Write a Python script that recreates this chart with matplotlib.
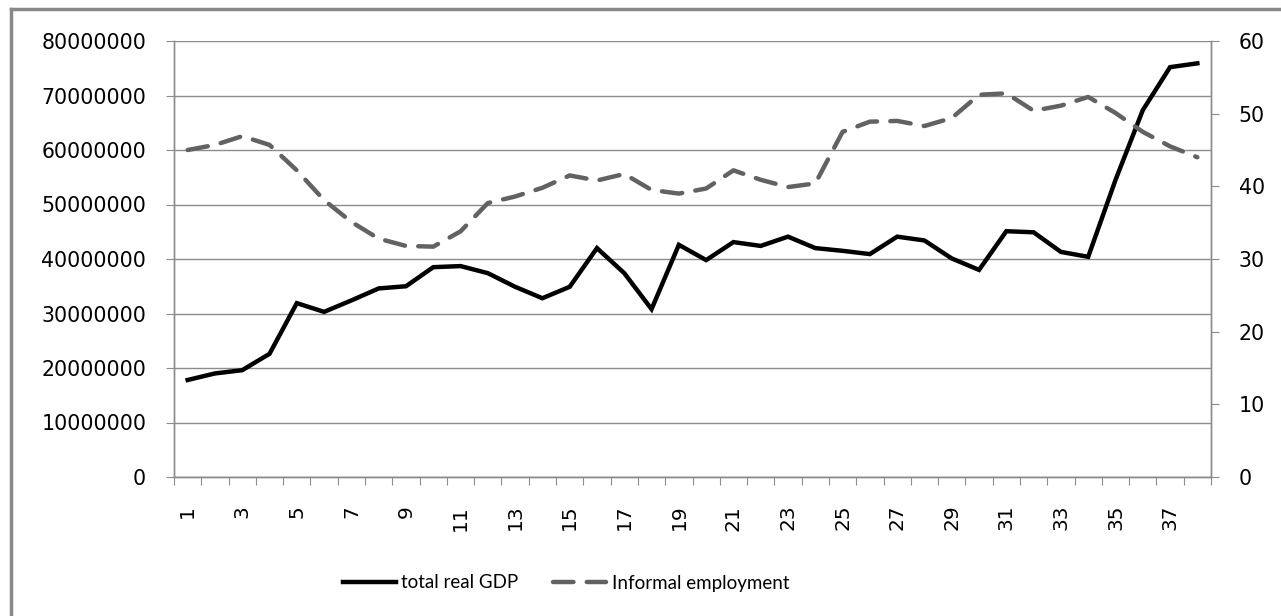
import matplotlib.pyplot as plt
from matplotlib.lines import Line2D
from matplotlib.ticker import FixedLocator, NullFormatter, FixedFormatter

# Datos
periodos = list(range(1, 39))
gdp = [17.8, 19.0, 19.6, 22.6, 31.9, 30.3, 32.4, 34.6, 35.0, 38.5,
       38.7, 37.4, 34.9, 32.8, 34.9, 42.0, 37.4, 30.8, 42.6, 39.8,
       43.1, 42.4, 44.1, 42.0, 41.5, 40.9, 44.1, 43.4, 40.1, 38.0,
       45.1, 44.9, 41.3, 40.4, 54.5, 67.3, 75.2, 75.9]
gdp = [v * 1e6 for v in gdp]
informal = [45.0, 45.7, 46.9, 45.7, 42.2, 38.1, 35.1, 32.8, 31.8, 31.7,
            33.8, 37.7, 38.6, 39.8, 41.5, 40.8, 41.7, 39.5, 39.0, 39.7,
            42.2, 40.9, 39.9, 40.4, 47.5, 48.9, 49.0, 48.3, 49.4, 52.6,
            52.8, 50.4, 51.1, 52.3, 50.1, 47.5, 45.5, 44.0]
left_ticks = list(range(0, 80000001, 10000000))
right_ticks = list(range(0, 61, 10))
x_labels = [str(i) for i in periodos if i % 2 == 1]

tick_font = {'family': 'DejaVu Sans', 'size': 14.8}
grid_col = '#8c8c8c'

fig = plt.figure(figsize=(12.81, 6.16), dpi=100)
ax = fig.add_axes([174 / 1281, 1 - 477 / 616, (1211 - 174) / 1281, (477 - 41) / 616])
ax2 = ax.twinx()

# Eje izquierdo: PIB
ax.plot(periodos, gdp, color='black', lw=3.2, solid_joinstyle='miter',
        label='total real GDP', zorder=3)
ax.set_ylim(0, 80000000)
ax.set_xlim(0.5, 38.5)
ax.set_yticks(left_ticks)
ax.set_yticklabels([str(t) for t in left_ticks], fontdict=tick_font)
ax.yaxis.grid(True, color=grid_col, lw=1)
ax.set_axisbelow(True)

# Eje derecho: empleo informal
ln2, = ax2.plot(periodos, informal, color='#626262', lw=3.2,
                dashes=(4.6, 3.0), dash_capstyle='round',
                label='Informal employment')
ax2.set_ylim(0, 60)
ax2.set_yticks(right_ticks)
ax2.set_yticklabels([str(t) for t in right_ticks], fontdict=tick_font)

# Ticks del eje x entre categorias, etiquetas en los impares
ax.xaxis.set_major_locator(FixedLocator([i + 0.5 for i in range(0, 39)]))
ax.xaxis.set_major_formatter(NullFormatter())
ax.xaxis.set_minor_locator(FixedLocator([i for i in periodos if i % 2 == 1]))
ax.xaxis.set_minor_formatter(FixedFormatter(x_labels))
ax.tick_params(axis='x', which='major', direction='out', length=6, color=grid_col)
ax.tick_params(axis='x', which='minor', length=0, pad=20, labelrotation=90,
               labelsize=14.5)
ax.tick_params(axis='y', direction='out', length=6, color=grid_col, pad=14)
ax2.tick_params(axis='y', direction='out', length=6, color=grid_col, pad=14)

for a in (ax, ax2):
    a.spines['top'].set_visible(False)
    for s in ('left', 'right', 'bottom'):
        a.spines[s].set_color(grid_col)
        a.spines[s].set_linewidth(1)

# Leyenda abajo
handles = [ax.get_lines()[0], ln2]
fig.legend(handles, ['total real GDP', 'Informal employment'],
           loc='center', bbox_to_anchor=(0.442, 1 - 583 / 616), ncol=2,
           frameon=False, handlelength=2.8, handletextpad=0.3,
           columnspacing=1.85,
           prop={'family': ['Lato', 'DejaVu Sans'], 'size': 13.5})

# Borde del grafico (solo arriba e izquierda visibles)
fig.add_artist(Line2D([11 / 1281, 11 / 1281], [0, 1 - 9 / 616], color='#888888', lw=2.5))
fig.add_artist(Line2D([11 / 1281, 1], [1 - 9 / 616, 1 - 9 / 616], color='#888888', lw=2.5))

fig.savefig('out.png', dpi=100)
